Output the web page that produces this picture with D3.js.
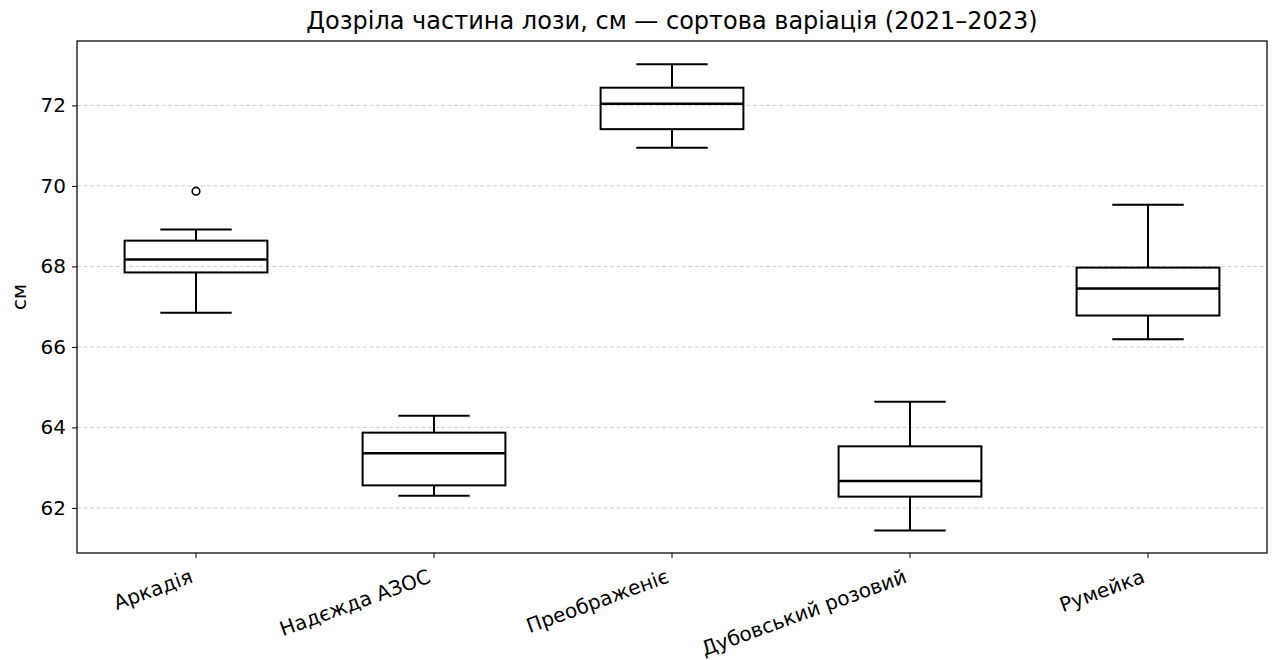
<!DOCTYPE html>
<html>
<head>
<meta charset="utf-8">
<script src="https://cdn.jsdelivr.net/npm/d3@7"></script>
<style>
  html, body { margin: 0; padding: 0; background: #fff; }
  svg { display: block; font-family: "DejaVu Sans", sans-serif; }
</style>
</head>
<body>
<svg id="chart" width="1275" height="660"></svg>
<script>
// Cultivars and five-number summaries of ripened shoot length (cm)
const categories = ["Аркадія", "Надєжда АЗОС", "Преображеніє", "Дубовський розовий", "Румейка"];
const whiskerLow  = [66.85, 62.30, 70.95, 61.44, 66.19];
const q1          = [67.85, 62.56, 71.41, 62.28, 66.78];
const median      = [68.17, 63.36, 72.04, 62.67, 67.45];
const q3          = [68.64, 63.87, 72.44, 63.53, 67.97];
const whiskerHigh = [68.92, 64.29, 73.02, 64.64, 69.53];
const outliers    = [[69.87], [], [], [], []];
const yTicks      = [62, 64, 66, 68, 70, 72];

const titleText = "Дозріла частина лози, см — сортова варіація (2021–2023)";
const yLabel = "см";

const svg = d3.select("#chart");
const margin = { left: 77, right: 8, top: 41, bottom: 107 };
const W = 1275, H = 660;
const x0 = margin.left, x1 = W - margin.right;
const y0 = margin.top, y1 = H - margin.bottom;

const x = d3.scaleBand().domain(categories).range([x0, x1]).paddingInner(0).paddingOuter(0);
const y = d3.scaleLinear().domain([60.88, 73.6]).range([y1, y0]);

const boxW = x.bandwidth() * 0.6;
const capW = boxW / 2;

// horizontal dashed grid
svg.append("g").selectAll("line").data(yTicks).join("line")
  .attr("x1", x0).attr("x2", x1)
  .attr("y1", d => y(d)).attr("y2", d => y(d))
  .attr("stroke", "#cfcfcf").attr("stroke-width", 1)
  .attr("stroke-dasharray", "4,2.5");

const rows = categories.map((c, i) => ({
  c, lo: whiskerLow[i], q1: q1[i], med: median[i], q3: q3[i], hi: whiskerHigh[i], out: outliers[i]
}));

const g = svg.append("g").selectAll("g").data(rows).join("g")
  .attr("transform", d => `translate(${x(d.c) + x.bandwidth() / 2},0)`);

// whiskers
g.append("line").attr("x1", 0).attr("x2", 0)
  .attr("y1", d => y(d.q3)).attr("y2", d => y(d.hi))
  .attr("stroke", "#000").attr("stroke-width", 2);
g.append("line").attr("x1", 0).attr("x2", 0)
  .attr("y1", d => y(d.q1)).attr("y2", d => y(d.lo))
  .attr("stroke", "#000").attr("stroke-width", 2);
// caps
g.append("line").attr("x1", -capW / 2).attr("x2", capW / 2)
  .attr("y1", d => y(d.hi)).attr("y2", d => y(d.hi))
  .attr("stroke", "#000").attr("stroke-width", 2);
g.append("line").attr("x1", -capW / 2).attr("x2", capW / 2)
  .attr("y1", d => y(d.lo)).attr("y2", d => y(d.lo))
  .attr("stroke", "#000").attr("stroke-width", 2);
// boxes
g.append("rect")
  .attr("x", -boxW / 2).attr("width", boxW)
  .attr("y", d => y(d.q3)).attr("height", d => y(d.q1) - y(d.q3))
  .attr("fill", "none").attr("stroke", "#000").attr("stroke-width", 2);
// medians
g.append("line").attr("x1", -boxW / 2).attr("x2", boxW / 2)
  .attr("y1", d => y(d.med)).attr("y2", d => y(d.med))
  .attr("stroke", "#000").attr("stroke-width", 2.6);
// outliers
g.selectAll("circle").data(d => d.out).join("circle")
  .attr("cx", 0).attr("cy", d => y(d)).attr("r", 3.8)
  .attr("fill", "none").attr("stroke", "#000").attr("stroke-width", 1.6);

// frame
svg.append("rect").attr("x", x0).attr("y", y0)
  .attr("width", x1 - x0).attr("height", y1 - y0)
  .attr("fill", "none").attr("stroke", "#000").attr("stroke-width", 1.25);

// y axis
const yAxis = svg.append("g").attr("transform", `translate(${x0},0)`)
  .call(d3.axisLeft(y).tickValues(yTicks).tickSize(5).tickPadding(6).tickFormat(d3.format("d")));
yAxis.select(".domain").remove();
yAxis.selectAll(".tick line").attr("stroke", "#000").attr("stroke-width", 1);
yAxis.selectAll(".tick text").attr("font-size", 20).attr("fill", "#000")
  .attr("font-family", "DejaVu Sans");

// x axis
const xAxis = svg.append("g").attr("transform", `translate(0,${y1})`)
  .call(d3.axisBottom(x).tickSize(5).tickPadding(0));
xAxis.select(".domain").remove();
xAxis.selectAll(".tick line").attr("stroke", "#000").attr("stroke-width", 1);
xAxis.selectAll(".tick text")
  .attr("font-size", 20).attr("fill", "#000").attr("font-family", "DejaVu Sans")
  .attr("text-anchor", "end")
  .attr("dy", null).attr("y", 0)
  .attr("transform", "translate(-2,29) rotate(-20)");

// title
svg.append("text").attr("x", (x0 + x1) / 2).attr("y", 29)
  .attr("text-anchor", "middle").attr("font-size", 24).attr("fill", "#000")
  .text(titleText);

// y label
svg.append("text")
  .attr("transform", `translate(26,${(y0 + y1) / 2}) rotate(-90)`)
  .attr("text-anchor", "middle").attr("font-size", 20).attr("fill", "#000")
  .text(yLabel);
</script>
</body>
</html>
